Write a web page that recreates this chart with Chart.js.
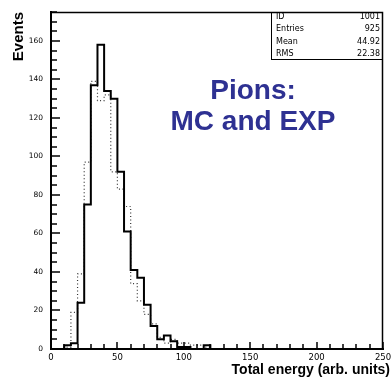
<!DOCTYPE html>
<html>
<head>
<meta charset="utf-8">
<script src="https://cdn.jsdelivr.net/npm/chart.js@4.4.0/dist/chart.umd.min.js"></script>
<style>
  html, body { margin: 0; padding: 0; background: #fff; }
  #wrap { width: 391px; height: 381px; }
</style>
</head>
<body>
<div id="wrap"><canvas id="histo" width="391" height="381"></canvas></div>
<script>
// lower edges of the energy bins (arb. units), each bin 5 wide
const binEdges = [0, 5, 10, 15, 20, 25, 30, 35, 40, 45, 50, 55, 60, 65, 70, 75, 80, 85, 90, 95, 100, 105, 110, 115, 120];
const binWidth = 5;

// events per bin, solid histogram
const solidEvents = [0, 0, 2, 3, 24, 75, 137, 158, 134, 130, 92, 61, 41, 37, 23, 12, 5, 7, 4, 1, 1, 0, 0, 2, 0];
// events per bin, dotted histogram
const dottedEvents = [0, 0, 1, 19, 39, 97, 139, 129, 132, 92, 83, 74, 34, 25, 18, 13, 6, 3, 5, 3, 3, 2, 2, 1, 0];

const xLimits = [0, 250];
const yLimits = [0, 175];
const xMinorStep = 10, xMajorStep = 50;
const yMinorStep = 5, yMajorStep = 20;

// statistics box contents
const statLabels = ["ID", "Entries", "Mean", "RMS"];
const statValues = ["1001", "925", "44.92", "22.38"];

const noteLines = ["Pions:", "MC and EXP"];
const xTitle = "Total energy (arb. units)";
const yTitle = "Events";

// turn bin contents into points for a stepped outline
function stepPoints(counts) {
    const pts = binEdges.map((edge, i) => ({ x: edge, y: counts[i] }));
    pts.push({ x: binEdges[binEdges.length - 1] + binWidth, y: 0 });
    return pts;
}

// keep the plot area fixed: no extra room for overhanging tick labels
function fixedAxis(size) {
    return (scale) => {
        if (scale.isHorizontal()) scale.height = size;
        else scale.width = size;
        scale.paddingLeft = scale.paddingRight = scale.paddingTop = scale.paddingBottom = 0;
    };
}

const tickFamily = "'DejaVu Sans', sans-serif";

// inward tick marks, frame, stats box and the text overlay
const decorations = {
    id: "decorations",
    afterDraw(chart) {
        const c = chart.ctx;
        const a = chart.chartArea;
        const xs = chart.scales.x, ys = chart.scales.y;
        c.save();
        c.setLineDash([]);
        c.strokeStyle = "#000";
        c.lineWidth = 1.5;

        c.beginPath();
        for (let v = yLimits[0]; v <= yLimits[1]; v += yMinorStep) {
            const py = Math.round(ys.getPixelForValue(v));
            const len = v % yMajorStep === 0 ? 9 : 6;
            c.moveTo(a.left, py);
            c.lineTo(a.left + len, py);
        }
        for (let v = xLimits[0]; v <= xLimits[1]; v += xMinorStep) {
            const px = Math.round(xs.getPixelForValue(v));
            const len = v % xMajorStep === 0 ? 7 : 5;
            c.moveTo(px, a.bottom);
            c.lineTo(px, a.bottom - len);
        }
        c.stroke();

        // top and right edges of the frame
        c.lineWidth = 1.5;
        c.beginPath();
        c.moveTo(a.left, a.top + 0.5);
        c.lineTo(a.right - 0.5, a.top + 0.5);
        c.lineTo(a.right - 0.5, a.bottom);
        c.stroke();

        // stats box in the top right corner
        const boxLeft = a.right - 112;
        const boxBottom = a.top + 47;
        c.lineWidth = 1;
        c.strokeRect(boxLeft + 0.5, a.top + 0.5, a.right - boxLeft - 1, boxBottom - a.top);
        c.fillStyle = "#000";
        c.font = "8px " + tickFamily;
        c.textBaseline = "middle";
        statLabels.forEach((label, i) => {
            const ty = a.top + 4.5 + i * 12.5;
            c.textAlign = "left";
            c.fillText(label, boxLeft + 5, ty);
            c.textAlign = "right";
            c.fillText(statValues[i], a.right - 3, ty);
        });

        // blue annotation
        c.fillStyle = "#2e3192";
        c.font = "bold 28px 'Liberation Sans', Arial, sans-serif";
        c.textAlign = "center";
        c.fillText(noteLines[0], a.left + 202, a.top + 79);
        c.fillText(noteLines[1], a.left + 202, a.top + 110);

        // x axis title, right aligned under the axis
        c.fillStyle = "#000";
        c.font = "bold 14px 'Liberation Sans', Arial, sans-serif";
        c.textAlign = "right";
        c.fillText(xTitle, chart.width - 1, 370);

        c.restore();
    }
};

const ctx = document.getElementById("histo").getContext("2d");

new Chart(ctx, {
    type: "line",
    data: {
        datasets: [
            {
                label: "solid",
                data: stepPoints(solidEvents),
                stepped: true,
                borderColor: "#000",
                borderWidth: 2,
                pointRadius: 0,
                fill: false,
                order: 0,
            },
            {
                label: "dotted",
                data: stepPoints(dottedEvents),
                stepped: true,
                borderColor: "#333",
                borderWidth: 1.2,
                borderDash: [1, 2.5],
                pointRadius: 0,
                fill: false,
                order: 1,
            },
        ],
    },
    options: {
        responsive: false,
        animation: false,
        devicePixelRatio: 1,
        layout: { padding: { top: 12, right: 8, left: 0, bottom: 0 } },
        plugins: {
            legend: { display: false },
            tooltip: { enabled: false },
        },
        scales: {
            x: {
                type: "linear",
                min: xLimits[0],
                max: xLimits[1],
                grid: { display: false, drawTicks: false },
                border: { display: true, color: "#000", width: 2 },
                ticks: {
                    stepSize: xMinorStep,
                    autoSkip: false,
                    maxRotation: 0,
                    padding: 4,
                    color: "#000",
                    font: { family: tickFamily, size: 8.5 },
                    callback: (v) => (v % xMajorStep === 0 ? v : ""),
                },
                afterFit: fixedAxis(32),
            },
            y: {
                min: yLimits[0],
                max: yLimits[1],
                grid: { display: false, drawTicks: false },
                border: { display: true, color: "#000", width: 2 },
                ticks: {
                    stepSize: yMinorStep,
                    autoSkip: false,
                    padding: 8,
                    color: "#000",
                    font: { family: tickFamily, size: 7.5 },
                    callback: (v) => (v % yMajorStep === 0 ? v : ""),
                },
                title: {
                    display: true,
                    text: yTitle,
                    align: "end",
                    color: "#000",
                    padding: { top: 10, bottom: 0 },
                    font: { family: "'Liberation Sans', Arial, sans-serif", size: 15, weight: "bold" },
                },
                afterFit: fixedAxis(51),
            },
        },
    },
    plugins: [decorations],
});
</script>
</body>
</html>
